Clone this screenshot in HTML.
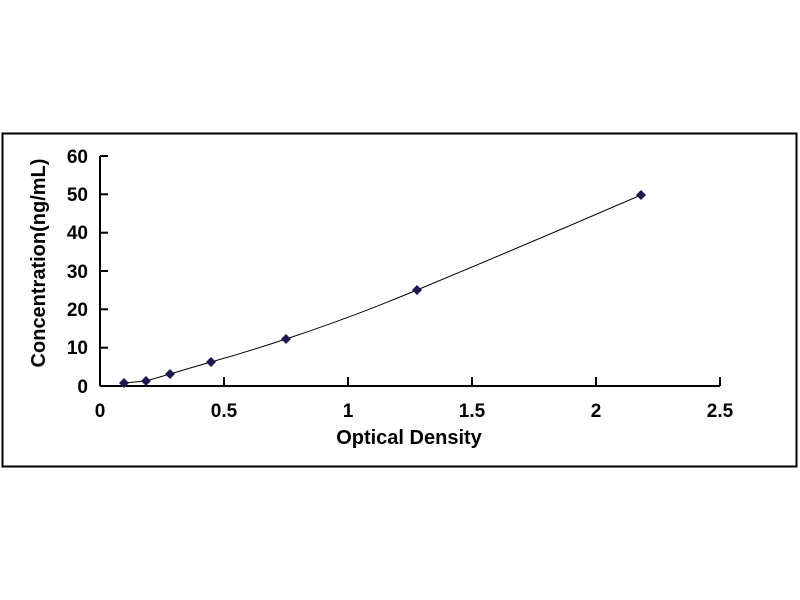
<!DOCTYPE html>
<html><head><style>body{margin:0;background:#fff}svg{display:block}</style></head><body>
<svg width="800" height="600" xmlns="http://www.w3.org/2000/svg" font-family="Liberation Sans, Arial, sans-serif" font-weight="bold">
<rect x="0" y="0" width="800" height="600" fill="#fff"/>
<rect x="2.5" y="133.5" width="794" height="333" fill="none" stroke="#000" stroke-width="2"/>
<g stroke="#000" stroke-width="2" fill="none">
<line x1="100" y1="156" x2="100" y2="386"/>
<line x1="100" y1="386" x2="720" y2="386"/>
<line x1="100" y1="156" x2="108" y2="156"/>
<line x1="100" y1="194.3" x2="108" y2="194.3"/>
<line x1="100" y1="232.7" x2="108" y2="232.7"/>
<line x1="100" y1="271" x2="108" y2="271"/>
<line x1="100" y1="309.3" x2="108" y2="309.3"/>
<line x1="100" y1="347.7" x2="108" y2="347.7"/>
<line x1="224" y1="377" x2="224" y2="386"/>
<line x1="348" y1="377" x2="348" y2="386"/>
<line x1="472" y1="377" x2="472" y2="386"/>
<line x1="596" y1="377" x2="596" y2="386"/>
<line x1="720" y1="377" x2="720" y2="386"/>
</g>
<g font-size="19" text-anchor="end" fill="#000">
<text x="88" y="163">60</text><text x="88" y="201">50</text><text x="88" y="239">40</text>
<text x="88" y="278">30</text><text x="88" y="316">20</text><text x="88" y="354">10</text><text x="88" y="393">0</text>
</g>
<g font-size="19" text-anchor="middle" fill="#000">
<text x="100" y="417">0</text><text x="224" y="417">0.5</text><text x="348" y="417">1</text>
<text x="472" y="417">1.5</text><text x="596" y="417">2</text><text x="720" y="417">2.5</text>
</g>
<text x="409" y="444" font-size="20" text-anchor="middle">Optical Density</text>
<text transform="translate(45,263) rotate(-90)" font-size="20" text-anchor="middle">Concentration(ng/mL)</text>
<path d="M124,383 L146,381 L170,374 Q190,368 211,362 Q250,351 286,339 Q350,318 417,290 Q530,243 641,195" fill="none" stroke="#000" stroke-width="1"/>
<g fill="#1a1a50">
<path d="M124,378 l5,5 l-5,5 l-5,-5z"/><path d="M146,376 l5,5 l-5,5 l-5,-5z"/>
<path d="M170,369 l5,5 l-5,5 l-5,-5z"/><path d="M211,357 l5,5 l-5,5 l-5,-5z"/>
<path d="M286,334 l5,5 l-5,5 l-5,-5z"/><path d="M417,285 l5,5 l-5,5 l-5,-5z"/>
<path d="M641,190 l5,5 l-5,5 l-5,-5z"/>
</g>
</svg>
</body></html>
